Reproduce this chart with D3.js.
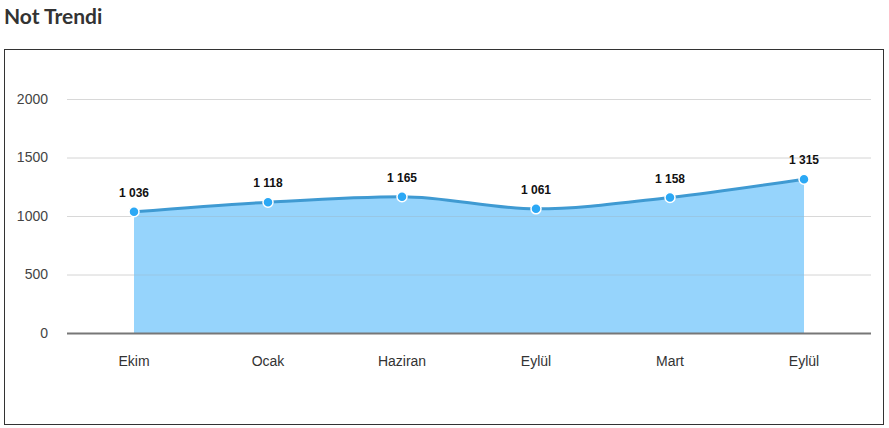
<!DOCTYPE html>
<html><head><meta charset="utf-8">
<script src="https://cdn.jsdelivr.net/npm/d3@7"></script>
<style>
body{margin:0;background:#fff;}
svg text{font-family:"Liberation Sans",Arial,sans-serif;}
</style></head><body>
<svg id="c" width="889" height="428"></svg>
<script>
const categories = ["Ekim","Ocak","Haziran","Eylül","Mart","Eylül"];
const values = [1036,1118,1165,1061,1158,1315];
const yTicks = [0,500,1000,1500,2000];
const title = "Not Trendi";

const svg = d3.select("#c");
svg.append("text").attr("x",4).attr("y",24).text(title)
  .style("font-family","Lato, sans-serif").style("font-weight","700")
  .style("font-size","21px").attr("fill","#333");
svg.append("rect").attr("x",4.5).attr("y",49.5).attr("width",879).attr("height",375)
  .attr("fill","none").attr("stroke","#333").attr("stroke-width",1);

const m = {l:67,r:871,t:99,b:333};
const x = d3.scaleBand().domain(d3.range(categories.length)).range([m.l,m.r]);
const cx = i => x(i)+x.bandwidth()/2;
const y = d3.scaleLinear().domain([0,2000]).range([m.b,m.t]);

// grid
svg.append("g").selectAll("line").data(yTicks.filter(d=>d>0)).join("line")
  .attr("x1",m.l).attr("x2",m.r).attr("y1",d=>y(d)+0.5).attr("y2",d=>y(d)+0.5)
  .attr("stroke","#e6e6e6");

// y labels
svg.append("g").selectAll("text").data(yTicks).join("text")
  .attr("x",48).attr("y",d=>y(d)).attr("dy","0.35em").attr("text-anchor","end")
  .attr("fill","#444").style("font-size","14px").text(d=>d);

const curve = d3.curveMonotoneX;
const area = d3.area().x((d,i)=>cx(i)).y0(y(0)).y1(d=>y(d)).curve(curve);
const line = d3.line().x((d,i)=>cx(i)).y(d=>y(d)).curve(curve);

svg.append("path").datum(values).attr("d",area).attr("fill","#7cc9fb").attr("fill-opacity",0.8);
svg.append("g").selectAll("line").data(yTicks.filter(d=>d>0)).join("line")
  .attr("x1",m.l).attr("x2",m.r).attr("y1",d=>y(d)+0.5).attr("y2",d=>y(d)+0.5)
  .attr("stroke","#b0b0b0").attr("stroke-opacity",0.25);
svg.append("path").datum(values).attr("d",line).attr("fill","none")
  .attr("stroke","#3f9ad2").attr("stroke-width",3);

// x axis
svg.append("line").attr("x1",m.l).attr("x2",m.r).attr("y1",m.b+0.5).attr("y2",m.b+0.5)
  .attr("stroke","#777").attr("stroke-width",2);
svg.append("g").selectAll("text").data(categories).join("text")
  .attr("x",(d,i)=>cx(i)).attr("y",366).attr("text-anchor","middle")
  .attr("fill","#333").style("font-size","14px").text(d=>d);

// markers
svg.append("g").selectAll("circle").data(values).join("circle")
  .attr("cx",(d,i)=>cx(i)).attr("cy",d=>y(d)).attr("r",5)
  .attr("fill","#2ba8f5").attr("stroke","#fff").attr("stroke-width",1.5);

const fmt = v => d3.format(",")(v).replace(/,/g," ");
svg.append("g").selectAll("text").data(values).join("text")
  .attr("x",(d,i)=>cx(i)).attr("y",d=>y(d)-15).attr("text-anchor","middle")
  .attr("fill","#111").style("font-size","12px").style("font-weight","600").text(d=>fmt(d));
</script></body></html>
